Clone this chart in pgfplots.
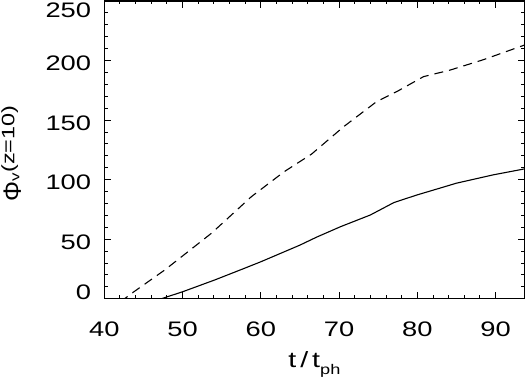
\documentclass[border=0pt]{standalone}
\usepackage{fontspec}
\setmainfont{Liberation Sans}[FakeStretch=1.3]
\newfontfamily\plainsans{Liberation Sans}
\usepackage{pgfplots}
\pgfplotsset{compat=1.18}
\usetikzlibrary{calc}
\begin{document}
\begin{tikzpicture}
\begin{axis}[
  scale only axis, width=420.2pt, height=297.7pt,
  xmin=40, xmax=93.7, ymin=0, ymax=250,
  xtick={40,50,...,90}, ytick={0,50,...,250},
  yticklabels={\raisebox{9.7pt}[\height][\depth]{0},50,100,150,200,\raisebox{-6.5pt}[\height][\depth]{250}},
  minor x tick num=4, minor y tick num=4,
  tick pos=both, tick align=inside,
  major tick length=7pt, minor tick length=3.5pt,
  axis line style={line width=1.1pt},
  every tick/.style={line width=0.9pt, black},
  tick label style={font=\fontsize{21}{21}\selectfont, inner sep=0pt},
  /pgf/number format/assume math mode=true,
  xticklabel style={anchor=base, yshift=-38pt},
  yticklabel style={anchor=east, xshift=-13pt, yshift=-3pt},
  every axis x label/.style={at={(axis description cs:0.5,0)}, yshift=-69.3pt, anchor=base, inner sep=0pt, font=\fontsize{22}{22}\selectfont},
  every axis y label/.style={at={(axis description cs:0,0.5)}, xshift=-83.5pt, yshift=-3.5pt, rotate=90, anchor=base, inner sep=0pt, font=\fontsize{21}{21}\selectfont},
  xlabel={t\hspace{4pt}/\hspace{4pt}t{\fontsize{14}{14}\selectfont\raisebox{-7pt}{ph}}},
  ylabel={{\plainsans\fontsize{25}{25}\selectfont Φ}{\fontsize{13}{13}\selectfont\raisebox{1.5pt}{v}}\raisebox{6.5pt}{\fontsize{18}{18}\selectfont (z=10)}},
]
\addplot[black, line width=1.1pt] coordinates {
(40,0) (47.3,0) (50,5.8) (54.1,15.7) (57.9,25.5) (60,31) (65,45) (67.1,51.6)
(70.2,60.5) (74,70.3) (77,80.7) (79.9,87) (82.1,91.3) (85,97) (89.7,104) (93.7,109)
};
\addplot[black, line width=1.1pt, dash pattern=on 9pt off 6pt] coordinates {
(40,0) (42.6,0) (43.5,4.5) (47.7,24) (53.7,55) (58.8,85.7) (63.0,106.7) (66.5,121.5)
(70.6,144.5) (74.8,165.5) (77.4,174) (80.8,186.5) (84.2,192) (88.4,200.6) (93.7,213)
};
\end{axis}
\pgfresetboundingbox
\path ($(current axis.south west)+(-104.3pt,-78.3pt)$) rectangle ($(current axis.north east)+(3.5pt,1pt)$);
\end{tikzpicture}
\end{document}
